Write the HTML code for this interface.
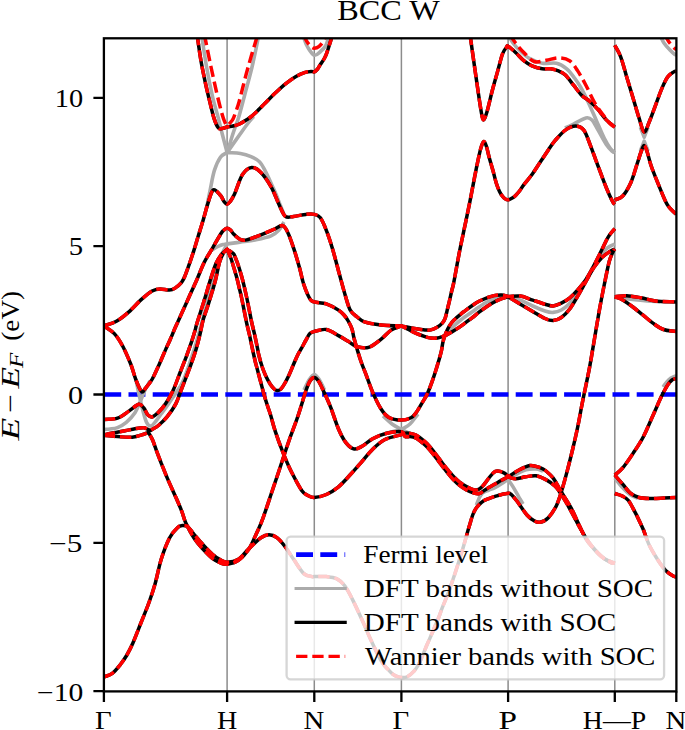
<!DOCTYPE html><html><head><meta charset="utf-8"><style>html,body{margin:0;padding:0;background:#fff;}svg{display:block;}</style></head><body><svg width="685" height="730" viewBox="0 0 685 730">
<defs><clipPath id="ax"><rect x="103.9" y="38.3" width="572.5" height="653.1"/></clipPath></defs>
<rect width="685" height="730" fill="#fff"/>
<path d="M227.1 38.3V691.4M314.3 38.3V691.4M401.4 38.3V691.4M508.1 38.3V691.4M614.8 38.3V691.4" stroke="#8c8c8c" stroke-width="1.5" fill="none"/>
<g clip-path="url(#ax)" fill="none">
<path d="M104.3 394.5H676.4" stroke="#0000ff" stroke-width="4.6" stroke-dasharray="16.9 7.3"/>
<path d="M201.4 34.0 C203.1 44.8 204.7 56.2 206.5 66.5 C208.3 76.8 210.4 87.2 212.3 95.7 C214.2 104.2 216.5 111.0 218.2 117.6 C219.9 124.1 221.0 129.2 222.5 135.0 C224.0 140.8 225.6 146.7 227.1 152.6 C228.4 148.4 229.8 143.8 231.0 140.0 C232.2 136.2 232.9 133.7 234.2 130.0 C235.5 126.3 236.9 123.3 238.6 117.6 C240.3 111.9 242.3 104.0 244.5 95.7 C246.7 87.4 249.6 77.1 251.8 68.0 C254.0 58.9 256.5 46.7 257.6 41.0 C258.7 35.3 258.1 36.3 258.3 34.0" stroke="#ababab" stroke-width="3.6" stroke-linejoin="round"/>
<path d="M227.1 152.6 C224.9 154.1 222.7 154.0 220.6 157.0 C218.5 160.0 216.1 165.1 214.4 170.4 C212.7 175.7 211.7 182.5 210.4 188.8 C209.1 195.1 207.8 201.6 206.5 208.0" stroke="#ababab" stroke-width="3.6" stroke-linejoin="round"/>
<path d="M227.1 152.6 C231.5 152.9 236.4 152.7 240.4 153.4 C244.4 154.1 247.8 155.2 251.0 156.6 C254.2 158.0 257.3 159.6 259.7 162.0 C262.1 164.4 263.7 168.2 265.2 170.8 C266.7 173.4 267.3 175.0 268.5 177.5 C269.7 180.0 271.0 183.1 272.3 186.0 C273.6 188.9 275.0 191.8 276.3 195.0 C277.6 198.2 279.0 201.9 280.2 205.0 C281.4 208.1 282.5 210.7 283.7 213.5" stroke="#ababab" stroke-width="3.6" stroke-linejoin="round"/>
<path d="M227.1 152.6 C229.8 148.7 232.7 144.6 235.3 140.9 C237.9 137.2 240.3 133.8 242.5 130.7 C244.7 127.6 246.7 124.9 248.6 122.5 C250.5 120.1 252.0 118.5 253.7 116.5" stroke="#ababab" stroke-width="3.6" stroke-linejoin="round"/>
<path d="M210.2 251.0 C212.8 249.5 215.8 247.6 218.0 246.5 C220.2 245.4 221.6 244.9 223.1 244.5 C224.6 244.1 224.3 244.3 227.1 243.9 C229.9 243.5 235.3 242.8 240.0 242.2 C244.7 241.5 249.8 241.1 255.0 240.0 C260.2 238.9 267.1 237.5 271.1 235.8 C275.1 234.1 276.9 232.3 279.0 230.0 C281.1 227.7 282.3 224.7 284.0 222.0" stroke="#ababab" stroke-width="3.6" stroke-linejoin="round"/>
<path d="M303.6 34.0 C303.9 35.9 303.8 37.5 304.5 39.8 C305.2 42.1 306.5 45.3 308.1 47.9 C309.7 50.5 312.2 54.6 314.3 55.2 C316.4 55.8 318.6 53.1 320.5 51.5 C322.4 49.9 324.5 47.7 325.7 45.7 C326.9 43.8 327.3 41.8 327.8 39.8 C328.3 37.8 328.5 35.9 328.8 34.0" stroke="#ababab" stroke-width="3.6" stroke-linejoin="round"/>
<path d="M507.6 34.0 C509.4 37.0 511.0 40.3 513.0 43.0 C515.0 45.7 516.9 47.8 519.7 50.4 C522.5 53.0 526.1 56.6 529.9 58.7 C533.6 60.8 537.8 62.5 542.2 63.2 C546.6 64.0 552.4 62.3 556.5 63.2 C560.6 64.1 563.6 66.2 566.7 68.8 C569.8 71.3 572.6 75.5 574.9 78.5 C577.2 81.5 578.3 83.2 580.5 87.0 C582.7 90.8 585.3 96.0 587.9 101.5 C590.5 107.0 593.4 113.8 596.1 119.9 C598.8 126.0 601.9 133.5 604.3 138.3 C606.7 143.1 608.6 146.1 610.4 148.5 C612.1 150.9 613.3 151.2 614.8 152.6" stroke="#ababab" stroke-width="3.6" stroke-linejoin="round"/>
<path d="M565.0 128.0 C567.9 126.7 570.1 125.7 573.6 124.0 C577.1 122.3 582.8 118.6 585.9 117.9 C589.0 117.2 590.0 117.9 592.0 119.9 C594.0 121.9 595.7 126.0 598.1 130.1 C600.5 134.2 603.9 140.8 606.3 144.4 C608.7 148.0 611.0 150.2 612.4 151.6 C613.8 153.0 614.0 152.3 614.8 152.6" stroke="#ababab" stroke-width="3.6" stroke-linejoin="round"/>
<path d="M659.4 34.0 C660.9 37.0 662.2 40.3 664.0 43.0 C665.8 45.7 668.2 48.1 670.0 50.0 C671.8 51.9 673.6 53.7 674.8 54.5 C676.0 55.3 676.5 54.8 677.3 55.0" stroke="#ababab" stroke-width="3.6" stroke-linejoin="round"/>
<path d="M640.3 127.0 C641.6 130.4 642.9 133.8 644.2 137.2 C645.5 133.8 646.8 130.4 648.1 127.0" stroke="#ababab" stroke-width="3.6" stroke-linejoin="round"/>
<path d="M640.3 151.0 C641.6 147.7 642.9 144.5 644.2 141.2 C645.5 144.5 646.8 147.7 648.1 151.0" stroke="#ababab" stroke-width="3.6" stroke-linejoin="round"/>
<path d="M136.0 380.0 C137.4 386.4 138.8 393.7 140.1 399.2 C141.3 404.7 142.4 409.1 143.5 413.0 C144.6 416.9 145.4 420.4 146.7 422.6 C147.9 424.8 149.4 426.3 151.0 426.0 C152.6 425.7 154.3 423.0 156.0 421.0 C157.7 419.0 159.5 416.3 161.3 413.8 C163.1 411.3 165.1 408.8 167.0 406.0 C168.9 403.2 170.5 400.9 173.0 397.2 C175.5 393.5 179.4 388.3 181.8 383.6 C184.2 378.9 185.7 374.4 187.6 369.0 C189.5 363.6 191.8 356.9 193.5 351.5 C195.2 346.1 196.5 341.8 198.0 336.5 C199.5 331.2 201.1 325.2 202.5 320.0 C203.9 314.8 205.0 311.0 206.5 305.5 C208.0 300.0 209.8 293.1 211.5 287.0 C213.2 280.9 214.9 274.2 216.5 269.0 C218.1 263.8 219.2 260.2 221.0 256.0 C222.8 251.8 225.1 248.0 227.1 244.0" stroke="#ababab" stroke-width="3.6" stroke-linejoin="round"/>
<path d="M103.9 429.5 C105.9 429.3 107.7 429.3 110.0 429.0 C112.3 428.7 114.8 428.7 117.5 427.6 C120.2 426.5 123.4 424.8 126.3 422.3 C129.2 419.8 132.7 416.2 135.0 412.7 C137.3 409.2 138.6 405.3 140.3 401.5 C142.0 397.7 143.4 393.4 145.0 390.0 C146.6 386.6 148.3 384.0 150.0 381.0" stroke="#ababab" stroke-width="3.6" stroke-linejoin="round"/>
<path d="M383.0 416.0 C386.0 418.7 388.9 421.7 392.0 424.0 C395.1 426.3 398.3 427.7 401.4 429.6 C404.3 427.7 407.2 426.6 410.0 424.0 C412.8 421.4 415.3 417.3 418.0 414.0" stroke="#ababab" stroke-width="3.6" stroke-linejoin="round"/>
<path d="M385.0 433.5 C390.5 432.2 395.9 430.9 401.4 429.6 C405.9 431.6 410.5 433.5 415.0 435.5" stroke="#ababab" stroke-width="3.6" stroke-linejoin="round"/>
<path d="M508.1 296.5 C512.2 297.7 516.3 298.5 520.4 300.1 C524.5 301.7 528.6 304.2 532.7 306.0 C536.8 307.8 541.6 309.9 545.0 311.0 C548.4 312.1 550.4 312.6 553.1 312.4 C555.8 312.2 558.6 311.5 561.3 310.0 C564.0 308.5 566.8 306.3 569.5 303.5 C572.2 300.7 575.0 296.8 577.7 293.0 C580.4 289.2 583.1 285.1 585.8 280.7 C588.5 276.3 591.3 271.0 594.0 266.4 C596.7 261.8 599.9 256.2 602.2 253.1 C604.5 249.9 605.9 249.0 608.0 247.5 C610.1 246.0 612.5 245.2 614.8 244.0" stroke="#ababab" stroke-width="3.6" stroke-linejoin="round"/>
<path d="M446.0 334.0 C448.6 331.3 451.2 328.4 453.8 326.0 C456.4 323.6 458.4 321.8 461.4 319.5 C464.4 317.2 469.1 314.1 472.0 312.0 C474.9 309.9 476.5 308.7 479.0 307.0 C481.5 305.3 484.4 303.3 486.9 302.0 C489.4 300.7 491.4 299.8 493.9 299.0 C496.4 298.2 499.4 297.4 501.8 297.0 C504.2 296.6 506.0 296.7 508.1 296.5" stroke="#ababab" stroke-width="3.6" stroke-linejoin="round"/>
<path d="M614.8 296.8 C618.8 297.5 621.3 298.1 626.7 298.8 C632.1 299.5 641.7 300.4 647.2 300.9 C652.8 301.4 655.7 301.5 660.0 301.8" stroke="#ababab" stroke-width="3.6" stroke-linejoin="round"/>
<path d="M476.4 505.1 C477.4 502.7 478.4 499.6 479.3 497.8 C480.2 496.0 480.9 495.1 481.5 494.2 C482.1 493.3 481.8 493.4 483.0 492.7 C484.2 492.0 487.0 490.9 489.0 490.0 C491.0 489.1 491.8 489.4 495.0 487.6 C498.2 485.9 503.7 482.2 508.1 479.5 C509.7 481.9 511.4 484.2 512.9 486.6 C514.4 489.0 515.8 491.6 517.0 493.7 C518.2 495.8 519.0 497.3 520.0 499.0 C521.0 500.7 522.0 502.3 523.0 504.0" stroke="#ababab" stroke-width="3.6" stroke-linejoin="round"/>
<path d="M508.1 479.5 C510.7 477.8 513.0 476.1 516.0 474.5 C519.0 472.9 522.7 470.7 526.0 469.8 C529.3 468.9 533.2 468.8 536.0 469.0 C538.8 469.2 540.7 470.3 543.0 471.0" stroke="#ababab" stroke-width="3.6" stroke-linejoin="round"/>
<path d="M614.8 478.0 C617.2 481.0 619.5 484.2 622.0 487.0 C624.5 489.8 627.3 492.6 630.0 494.5 C632.7 496.4 635.3 497.2 638.0 498.5" stroke="#ababab" stroke-width="3.6" stroke-linejoin="round"/>
<path d="M304.0 390.0 C305.7 386.7 307.3 382.6 309.0 380.0 C310.7 377.4 312.6 374.5 314.3 374.5 C316.1 374.5 317.8 377.4 319.5 380.0 C321.2 382.6 322.8 386.7 324.5 390.0" stroke="#ababab" stroke-width="3.6" stroke-linejoin="round"/>
<path d="M663.0 387.0 C665.0 384.5 666.8 381.4 669.0 379.5 C671.2 377.6 673.9 376.8 676.3 375.5" stroke="#ababab" stroke-width="3.6" stroke-linejoin="round"/>
<path d="M103.9 677.0 C106.7 675.8 109.5 675.5 112.3 673.4 C115.0 671.3 118.0 667.5 120.4 664.5 C122.8 661.5 124.5 659.0 126.6 655.5 C128.6 652.0 130.3 648.9 132.7 643.5 C135.1 638.1 138.2 629.8 140.9 623.0 C143.6 616.2 146.6 609.1 149.0 602.5 C151.4 595.9 153.1 590.8 155.2 583.5 C157.2 576.2 158.9 566.6 161.3 559.0 C163.7 551.4 166.8 543.3 169.5 538.0 C172.2 532.7 175.5 529.5 177.7 527.4 C179.9 525.3 181.1 525.5 182.8 525.4 C184.5 525.3 186.0 525.3 187.9 526.8 C189.8 528.3 191.6 531.5 194.0 534.3 C196.4 537.1 199.1 540.5 202.2 543.8 C205.3 547.1 209.4 551.6 212.4 554.2 C215.4 556.8 217.6 558.2 220.0 559.6 C222.4 561.0 224.0 562.3 227.1 562.3 C230.2 562.2 234.8 561.5 238.4 559.3 C242.0 557.1 244.8 552.6 248.6 549.0 C252.3 545.4 257.5 540.2 260.9 537.8 C264.3 535.4 266.3 534.7 269.0 534.7 C271.7 534.7 274.5 535.8 277.2 537.8 C279.9 539.8 282.7 543.4 285.4 547.0 C288.1 550.6 290.5 554.9 293.6 559.3 C296.7 563.7 300.7 570.7 303.8 573.6 C306.9 576.5 310.2 576.1 312.0 576.6 C313.8 577.1 311.9 576.6 314.3 576.6 C316.7 576.6 322.6 576.2 326.3 576.6 C330.0 577.0 333.4 577.2 336.5 578.7 C339.6 580.2 342.0 582.2 344.7 585.8 C347.4 589.4 349.7 593.9 352.8 600.1 C355.9 606.3 360.3 616.0 363.4 622.9 C366.5 629.8 368.4 634.8 371.5 641.3 C374.6 647.8 378.9 657.0 381.7 661.7 C384.4 666.4 386.2 667.4 388.0 669.4 C389.8 671.4 390.9 672.6 392.4 673.8 C393.9 675.0 395.3 675.8 396.8 676.4 C398.3 677.0 399.6 677.4 401.4 677.5 C403.1 677.6 405.3 677.8 407.3 676.8 C409.3 675.8 411.6 673.8 413.5 671.7 C415.4 669.7 417.1 667.2 418.6 664.5 C420.1 661.8 421.3 658.5 422.7 655.2 C424.1 652.0 425.5 648.2 426.9 645.0 C428.3 641.8 429.6 638.9 431.0 635.7 C432.4 632.5 433.9 629.0 435.1 626.0 C436.4 623.0 437.3 621.0 438.5 618.0 C439.7 615.0 440.8 611.5 442.3 607.7 C443.8 603.9 445.7 599.7 447.3 595.4 C448.9 591.1 450.6 586.5 452.2 581.8 C453.8 577.1 455.5 572.1 457.1 567.0 C458.8 561.9 460.6 556.1 462.1 551.0 C463.7 545.9 465.2 540.2 466.4 536.2 C467.5 532.2 467.9 530.5 469.0 527.0 C470.1 523.5 471.6 518.0 472.7 515.0 C473.8 512.0 474.6 510.6 475.7 508.8 C476.8 507.0 478.0 505.7 479.3 504.4 C480.6 503.1 482.1 501.8 483.7 500.8 C485.3 499.8 486.9 499.3 488.8 498.6 C490.7 497.9 493.0 497.0 495.0 496.4 C497.0 495.8 498.5 495.2 500.7 494.7 C502.9 494.2 506.4 493.4 508.1 493.3 C509.8 493.2 509.6 493.1 510.9 494.2 C512.2 495.3 514.3 497.8 516.0 499.9 C517.7 502.0 519.2 504.4 521.1 507.0 C523.0 509.6 525.2 513.0 527.2 515.2 C529.2 517.4 531.3 519.1 533.4 520.3 C535.5 521.5 537.5 522.7 540.0 522.3 C542.5 521.9 545.5 520.5 548.3 517.7 C551.0 514.9 554.1 510.3 556.5 505.4 C558.9 500.5 560.6 494.2 562.4 488.3 C564.2 482.4 565.8 476.4 567.5 469.9 C569.2 463.4 570.9 456.6 572.6 449.5 C574.3 442.4 576.0 435.2 577.7 427.0 C579.4 418.8 580.9 409.8 582.8 400.4 C584.7 391.0 587.1 380.2 589.0 370.4 C590.9 360.6 592.3 351.6 594.0 341.7 C595.7 331.8 597.5 320.6 599.2 311.1 C600.9 301.6 602.6 292.8 604.3 284.5 C606.0 276.2 607.8 266.9 609.3 261.3 C610.8 255.7 612.5 253.2 613.4 251.1 C614.3 249.0 614.3 249.7 614.8 249.0" stroke="#000" stroke-width="3.5" stroke-linejoin="round"/>
<path d="M614.8 493.5 C617.4 494.4 620.2 494.9 622.5 496.1 C624.8 497.3 626.4 498.1 628.4 500.5 C630.4 502.9 632.5 507.4 634.2 510.7 C636.0 514.0 637.4 516.8 638.9 520.0 C640.4 523.2 641.8 525.8 643.5 530.0 C645.2 534.2 646.9 540.1 649.2 545.0 C651.5 549.9 654.7 555.0 657.4 559.3 C660.1 563.5 662.9 567.7 665.6 570.5 C668.3 573.3 672.0 575.3 673.8 576.3 C675.6 577.3 675.5 576.5 676.3 576.6" stroke="#000" stroke-width="3.5" stroke-linejoin="round"/>
<path d="M103.9 435.3 C108.4 435.7 112.8 436.3 117.5 436.6 C122.2 436.9 127.7 437.6 132.1 437.2 C136.5 436.8 141.1 435.0 143.8 434.2 C146.5 433.4 146.9 433.1 148.5 432.5 C149.9 435.0 151.2 436.8 152.6 440.0 C154.0 443.2 155.4 447.9 156.9 451.8 C158.4 455.7 159.6 459.0 161.3 463.4 C163.1 467.8 165.0 472.8 167.4 478.4 C169.8 484.0 173.2 491.4 175.6 496.8 C178.0 502.2 180.0 506.7 181.7 511.1 C183.4 515.5 183.8 518.5 185.8 523.0 C187.9 527.5 191.3 533.8 194.0 538.0 C196.7 542.2 199.1 544.9 202.2 548.3 C205.3 551.7 209.4 556.0 212.4 558.4 C215.4 560.8 217.6 561.7 220.0 562.7 C222.4 563.7 224.0 564.6 227.1 564.2 C230.2 563.8 234.8 562.8 238.4 560.3 C242.0 557.8 245.5 554.1 248.6 549.5 C251.7 544.9 254.4 537.9 256.8 532.7 C259.2 527.5 260.2 525.8 262.9 518.4 C265.6 511.0 270.0 497.4 273.1 488.3 C276.2 479.2 278.6 472.0 281.3 463.8 C284.0 455.6 286.8 447.1 289.5 439.3 C292.2 431.5 295.0 424.9 297.7 416.8 C300.4 408.8 303.8 397.0 305.8 391.0 C307.9 385.0 308.6 383.2 310.0 381.0 C311.4 378.8 312.9 377.5 314.3 377.5 C315.7 377.5 317.2 379.2 318.5 381.0 C319.8 382.8 320.2 383.9 322.2 388.2 C324.2 392.5 327.7 399.8 330.4 406.6 C333.1 413.4 335.9 422.9 338.5 429.0 C341.1 435.1 343.5 439.6 346.1 442.9 C348.7 446.2 351.6 448.5 354.3 449.0 C357.0 449.5 359.4 447.7 362.5 446.0 C365.6 444.3 368.9 440.9 372.7 438.8 C376.4 436.8 380.2 434.9 385.0 433.7 C389.8 432.5 398.1 431.2 401.4 431.7 C404.7 432.1 403.5 435.6 405.0 436.4 C406.5 437.2 408.6 436.3 410.3 436.6 C412.1 436.9 413.8 437.2 415.5 438.0 C417.2 438.8 418.9 440.1 420.8 441.5 C422.7 442.9 424.9 444.6 426.9 446.7 C428.9 448.8 431.1 451.4 433.0 453.8 C434.9 456.2 436.6 458.5 438.3 460.8 C440.1 463.1 441.8 465.6 443.5 467.8 C445.2 470.1 447.1 472.2 448.8 474.3 C450.6 476.4 452.2 478.4 454.0 480.2 C455.8 482.0 457.2 483.5 459.3 485.1 C461.4 486.8 464.4 488.8 466.9 490.1 C469.4 491.4 472.1 492.5 474.2 493.1 C476.3 493.7 477.8 493.8 479.3 493.5 C480.8 493.2 481.7 492.2 483.0 491.3 C484.3 490.4 485.3 489.6 487.3 488.4 C489.3 487.2 492.7 485.3 495.0 484.0 C497.3 482.7 498.8 481.7 501.0 480.5 C503.2 479.3 505.3 478.4 508.1 476.8 C510.9 475.2 514.1 472.6 517.7 470.7 C521.3 468.8 526.2 466.0 529.9 465.5 C533.6 465.0 537.4 466.7 540.1 467.6 C542.8 468.5 543.8 469.2 546.0 471.0 C548.2 472.8 551.0 475.2 553.2 478.1 C555.4 481.0 557.3 484.9 559.3 488.3 C561.3 491.7 563.3 495.1 565.4 498.5 C567.5 501.9 569.5 504.9 571.6 508.8 C573.7 512.7 575.3 517.0 577.7 522.0 C580.1 527.0 583.2 534.3 585.9 538.8 C588.6 543.3 591.3 545.9 594.0 549.0 C596.7 552.1 599.5 555.0 602.2 557.2 C604.9 559.4 608.3 561.3 610.4 562.3 C612.5 563.3 613.3 563.0 614.8 563.4" stroke="#000" stroke-width="3.5" stroke-linejoin="round"/>
<path d="M614.8 475.0 C617.4 472.6 619.7 471.5 622.7 467.9 C625.7 464.3 629.5 458.7 632.9 453.6 C636.3 448.5 639.7 443.7 643.1 437.2 C646.5 430.7 650.2 421.5 653.3 414.7 C656.4 407.9 659.1 401.2 661.5 396.3 C663.9 391.4 665.9 387.8 667.6 385.1 C669.4 382.4 670.5 381.1 672.0 380.0 C673.5 378.9 674.9 379.0 676.3 378.5" stroke="#000" stroke-width="3.5" stroke-linejoin="round"/>
<path d="M103.9 434.8 C105.9 434.4 108.0 433.9 110.0 433.5 C112.0 433.1 113.3 432.9 115.8 432.5 C118.3 432.1 121.8 431.4 125.0 430.8 C128.2 430.2 131.9 429.2 135.0 428.7 C138.1 428.2 141.8 427.7 143.8 427.8 C145.9 427.9 146.2 428.8 147.3 429.2 C148.4 429.6 149.4 430.1 150.5 430.5 C153.1 428.8 155.6 427.8 158.4 425.5 C161.2 423.2 164.3 420.3 167.2 416.7 C170.1 413.1 173.6 408.1 175.9 403.6 C178.2 399.2 179.6 394.1 181.2 390.0 C182.8 385.9 183.9 383.2 185.5 379.0 C187.1 374.8 189.0 369.9 190.8 365.0 C192.6 360.1 194.6 354.4 196.1 349.3 C197.6 344.2 198.8 339.4 200.0 334.4 C201.2 329.4 202.0 324.1 203.3 319.4 C204.6 314.7 206.2 310.8 207.7 306.3 C209.1 301.8 210.7 296.7 212.0 292.3 C213.3 287.9 214.2 285.1 215.5 280.0 C216.8 274.9 218.2 266.6 219.6 262.0 C221.0 257.4 222.4 254.8 223.7 252.7 C224.9 250.6 226.0 250.6 227.1 249.5 C228.2 250.2 229.4 250.8 230.5 251.5 C231.6 252.2 233.0 252.9 233.8 254.0 C234.6 255.1 234.6 255.6 235.5 257.9 C236.4 260.1 238.0 264.4 239.0 267.5 C240.0 270.6 240.7 273.1 241.6 276.3 C242.5 279.5 243.5 283.4 244.3 286.8 C245.1 290.2 245.8 293.3 246.6 297.0 C247.4 300.7 248.2 304.7 249.0 308.8 C249.8 312.9 250.7 317.5 251.6 321.9 C252.5 326.3 253.8 330.8 254.7 335.0 C255.6 339.2 256.6 344.0 257.3 347.3 C258.0 350.6 258.0 351.7 258.8 355.0 C259.6 358.3 261.1 363.8 262.3 367.3 C263.5 370.8 264.5 373.2 265.8 376.0 C267.1 378.8 268.7 381.7 270.1 383.9 C271.6 386.1 273.3 388.1 274.5 389.2 C275.7 390.3 276.2 390.5 277.2 390.5 C278.2 390.5 279.4 390.4 280.7 389.2 C282.0 387.9 283.6 385.5 285.0 383.0 C286.4 380.5 287.9 377.5 289.4 374.3 C290.9 371.1 292.4 367.0 293.8 363.8 C295.2 360.6 296.4 357.6 297.7 355.0 C299.0 352.4 300.3 350.4 301.7 347.9 C303.1 345.4 304.6 342.4 306.0 340.0 C307.4 337.6 308.5 335.0 309.9 333.6 C311.3 332.2 311.6 332.2 314.3 331.5 C317.0 330.8 322.3 328.8 326.3 329.5 C330.3 330.2 334.9 333.6 338.5 335.6 C342.1 337.6 345.2 339.5 348.2 341.3 C351.2 343.1 352.9 345.4 356.3 346.4 C359.7 347.4 364.5 348.6 368.6 347.4 C372.7 346.2 377.1 342.2 380.9 339.3 C384.6 336.4 387.7 332.3 391.1 330.1 C394.5 327.9 398.0 327.4 401.4 326.0 C405.8 328.2 410.6 330.8 414.5 332.6 C418.4 334.4 422.3 335.7 425.0 336.6 C427.7 337.5 428.7 337.8 430.8 338.0 C432.9 338.2 435.6 338.2 437.5 338.0 C439.4 337.8 440.9 337.1 442.3 336.6 C443.7 336.1 444.2 336.1 446.1 335.1 C448.0 334.1 450.9 332.6 453.8 330.8 C456.7 329.0 460.4 326.5 463.4 324.3 C466.4 322.1 469.4 319.9 472.0 317.9 C474.6 315.9 476.5 314.1 479.0 312.2 C481.5 310.3 484.4 308.2 486.9 306.5 C489.4 304.8 491.4 303.5 493.9 302.2 C496.4 300.9 499.4 299.5 501.8 298.6 C504.2 297.7 506.0 297.4 508.1 296.8 C512.2 299.3 516.3 301.8 520.4 304.2 C524.5 306.6 528.6 309.0 532.7 311.4 C536.8 313.8 541.6 317.0 545.0 318.5 C548.4 320.0 550.4 320.8 553.1 320.6 C555.8 320.4 558.6 319.4 561.3 317.5 C564.0 315.6 566.8 312.9 569.5 309.3 C572.2 305.7 575.0 300.7 577.7 296.1 C580.4 291.5 583.1 286.5 585.8 281.7 C588.5 276.9 591.3 271.5 594.0 267.4 C596.7 263.3 599.5 259.9 602.2 257.2 C604.9 254.5 608.3 252.5 610.4 251.1 C612.5 249.7 613.3 249.7 614.8 249.0" stroke="#000" stroke-width="3.5" stroke-linejoin="round"/>
<path d="M614.8 296.8 C617.4 297.8 619.7 298.2 622.7 299.9 C625.7 301.6 629.5 304.4 632.9 307.0 C636.3 309.6 639.7 312.5 643.1 315.2 C646.5 317.9 649.9 321.0 653.3 323.4 C656.7 325.8 659.7 328.1 663.5 329.5 C667.3 330.9 672.0 330.8 676.3 331.5" stroke="#000" stroke-width="3.5" stroke-linejoin="round"/>
<path d="M103.9 419.5 C108.4 419.1 113.3 419.6 117.5 418.2 C121.7 416.8 125.7 413.2 129.2 410.9 C132.7 408.6 136.3 404.8 138.7 404.3 C141.1 403.8 142.2 406.2 143.8 408.0 C145.4 409.8 146.7 413.9 148.2 415.3 C149.7 416.8 150.9 417.2 152.6 416.7 C154.3 416.2 156.2 414.5 158.4 412.3 C160.6 410.1 163.2 407.3 165.7 403.6 C168.2 399.9 170.9 395.3 173.3 390.0 C175.7 384.7 178.1 377.6 180.3 372.0 C182.5 366.4 184.5 361.4 186.4 356.3 C188.3 351.2 190.2 345.8 191.7 341.4 C193.2 337.0 194.4 332.6 195.2 330.0 C196.0 327.4 195.4 328.6 196.3 325.5 C197.2 322.4 199.1 316.6 200.7 311.5 C202.3 306.4 204.3 300.1 205.9 294.9 C207.5 289.6 208.6 285.3 210.3 280.0 C212.0 274.7 214.2 267.6 216.1 263.2 C218.0 258.8 220.1 256.2 221.9 253.9 C223.7 251.6 225.4 251.0 227.1 249.5 C227.7 250.8 228.3 251.9 229.0 253.5 C229.7 255.1 230.3 256.5 231.1 258.8 C231.9 261.1 232.9 264.6 233.8 267.5 C234.7 270.4 235.5 273.1 236.4 276.3 C237.3 279.5 238.2 283.4 239.0 286.8 C239.8 290.2 240.6 293.3 241.4 297.0 C242.2 300.7 243.0 304.7 243.8 308.8 C244.6 312.9 245.5 317.5 246.4 321.9 C247.3 326.3 248.6 330.8 249.5 335.0 C250.4 339.2 251.2 343.1 252.1 347.3 C253.0 351.6 254.2 357.0 255.0 360.5 C255.8 364.0 256.1 364.6 257.0 368.1 C257.9 371.6 259.3 376.9 260.5 381.3 C261.7 385.7 262.8 390.3 264.0 394.4 C265.2 398.5 266.4 402.4 267.5 405.8 C268.6 409.2 269.3 410.8 270.6 415.0 C271.9 419.2 273.1 424.7 275.2 431.1 C277.3 437.5 280.7 446.8 283.4 453.6 C286.1 460.4 288.4 465.9 291.5 472.0 C294.6 478.1 298.9 486.5 301.7 490.4 C304.4 494.3 305.9 494.3 308.0 495.5 C310.1 496.7 311.2 497.7 314.3 497.5 C317.4 497.3 322.3 496.3 326.3 494.5 C330.3 492.7 334.5 490.1 338.5 486.8 C342.5 483.5 346.6 478.7 350.2 474.8 C353.8 470.9 356.6 467.6 360.4 463.3 C364.1 459.0 368.6 453.2 372.7 449.2 C376.8 445.2 380.2 441.9 385.0 439.5 C389.8 437.1 398.1 435.8 401.4 434.7 C404.7 433.6 403.5 433.4 405.0 433.2 C406.5 433.0 408.6 433.1 410.3 433.4 C412.1 433.7 413.8 434.0 415.5 434.8 C417.2 435.6 418.9 436.9 420.8 438.3 C422.7 439.8 424.9 441.4 426.9 443.5 C428.9 445.6 431.1 448.2 433.0 450.6 C434.9 453.0 436.6 455.3 438.3 457.6 C440.1 459.9 441.8 462.4 443.5 464.6 C445.2 466.9 447.1 469.0 448.8 471.1 C450.6 473.2 452.2 475.2 454.0 477.0 C455.8 478.8 457.2 480.2 459.3 481.9 C461.4 483.5 464.4 485.6 466.9 486.9 C469.4 488.2 472.1 489.5 474.2 489.9 C476.3 490.3 477.6 490.1 479.3 489.1 C481.0 488.1 482.8 485.8 484.4 484.0 C486.0 482.2 487.2 480.1 488.8 478.1 C490.4 476.2 492.4 473.5 493.9 472.3 C495.3 471.1 496.2 471.1 497.5 471.0 C498.8 470.9 500.2 471.4 501.5 471.8 C502.8 472.2 503.9 472.7 505.0 473.5 C506.1 474.3 507.1 475.7 508.1 476.8 C510.6 477.5 512.7 478.8 515.6 478.8 C518.5 478.8 522.4 477.3 525.8 476.8 C529.2 476.3 532.7 475.3 536.1 475.8 C539.5 476.3 543.1 478.1 546.3 479.9 C549.5 481.6 552.7 483.9 555.2 486.3 C557.7 488.7 559.2 491.4 561.3 494.5 C563.3 497.6 565.5 501.1 567.5 504.7 C569.5 508.3 571.5 512.1 573.6 516.0 C575.7 519.9 577.6 523.8 580.0 528.0 C582.4 532.2 585.3 537.2 588.0 541.0 C590.7 544.8 593.3 548.1 596.0 551.0 C598.7 553.9 600.9 556.4 604.0 558.5 C607.1 560.6 611.2 561.8 614.8 563.4" stroke="#000" stroke-width="3.5" stroke-linejoin="round"/>
<path d="M614.8 475.0 C617.4 478.1 620.0 481.1 622.7 484.2 C625.4 487.3 628.1 491.2 630.8 493.4 C633.5 495.6 635.6 496.6 639.0 497.5 C642.4 498.4 647.2 498.4 651.3 498.5 C655.4 498.6 659.3 498.3 663.5 498.1 C667.7 497.9 672.0 497.7 676.3 497.5" stroke="#000" stroke-width="3.5" stroke-linejoin="round"/>
<path d="M103.9 326.0 C107.4 328.5 111.2 330.3 114.3 333.6 C117.4 336.9 119.8 340.7 122.5 345.8 C125.2 350.9 128.4 358.3 130.7 364.0 C132.9 369.7 134.2 375.4 136.0 380.0 C137.8 384.6 140.0 390.1 141.6 391.5 C143.2 392.9 143.5 390.6 145.3 388.5 C147.1 386.4 150.0 383.1 152.3 379.0 C154.6 374.9 157.1 369.0 159.3 364.2 C161.5 359.4 163.6 354.1 165.4 350.1 C167.2 346.1 168.5 343.4 170.0 340.0 C171.5 336.6 172.9 333.0 174.2 330.0 C175.5 327.0 176.2 325.6 177.8 322.0 C179.4 318.4 181.7 313.3 183.9 308.5 C186.1 303.7 188.7 297.7 190.8 293.0 C192.9 288.3 194.2 285.7 196.5 280.5 C198.8 275.3 201.7 267.4 204.4 262.0 C207.1 256.6 209.9 252.7 212.6 248.0 C215.3 243.3 218.8 237.0 220.7 234.0 C222.6 231.0 222.9 231.0 224.0 230.0 C225.1 229.0 226.0 228.2 227.1 228.2 C228.2 228.2 229.4 229.0 230.5 230.0 C231.6 231.0 232.0 232.4 233.6 234.0 C235.2 235.6 237.8 238.3 240.0 239.3 C242.2 240.3 243.1 240.7 246.6 239.9 C250.1 239.2 256.5 236.5 260.9 234.8 C265.3 233.1 269.5 231.2 273.1 229.7 C276.7 228.2 279.9 225.3 282.3 225.6 C284.7 225.9 285.5 227.9 287.4 231.7 C289.3 235.4 291.6 242.0 293.6 248.1 C295.7 254.2 298.0 262.4 299.7 268.5 C301.4 274.6 302.1 279.4 303.8 284.5 C305.5 289.6 308.1 295.9 309.9 298.8 C311.6 301.7 311.6 301.0 314.3 301.9 C317.0 302.8 322.3 302.5 326.3 303.9 C330.3 305.3 335.6 308.2 338.5 310.1 C341.4 312.0 342.4 313.2 344.0 315.0 C345.6 316.8 346.9 318.7 348.2 321.0 C349.5 323.3 351.0 325.9 352.0 329.0 C353.0 332.1 352.9 334.2 354.3 339.3 C355.7 344.4 358.3 353.6 360.4 359.7 C362.4 365.8 364.6 370.7 366.6 376.1 C368.7 381.6 370.3 386.9 372.7 392.4 C375.1 397.8 378.2 404.6 380.9 408.8 C383.6 413.0 385.6 415.6 389.0 417.5 C392.4 419.4 397.7 420.1 401.4 420.1 C405.1 420.1 408.6 418.9 411.0 417.7 C413.4 416.5 414.1 415.2 416.0 412.7 C417.9 410.2 420.2 406.0 422.1 402.9 C424.0 399.8 425.5 397.7 427.1 394.2 C428.8 390.7 430.6 385.8 432.0 381.9 C433.4 378.0 434.5 374.7 435.7 370.8 C436.9 366.9 438.4 362.0 439.4 358.5 C440.4 355.0 441.0 352.9 441.6 350.0 C442.2 347.1 442.4 343.9 443.2 341.0 C443.9 338.1 445.0 335.1 446.1 332.5 C447.2 329.9 448.6 327.1 449.9 325.1 C451.2 323.1 451.9 322.2 453.8 320.3 C455.7 318.4 459.5 315.2 461.4 313.6 C463.3 312.0 463.2 312.2 465.0 310.9 C466.8 309.6 469.7 307.3 472.0 305.7 C474.3 304.1 476.5 302.6 479.0 301.3 C481.5 300.0 484.4 298.8 486.9 297.8 C489.4 296.9 491.4 296.1 493.9 295.6 C496.4 295.1 499.4 294.9 501.8 295.0 C504.2 295.1 506.0 296.0 508.1 296.5 C512.2 296.4 516.3 295.5 520.4 296.1 C524.5 296.7 528.6 298.8 532.7 300.1 C536.8 301.5 541.6 303.2 545.0 304.2 C548.4 305.2 550.4 306.1 553.1 305.9 C555.8 305.7 558.6 304.5 561.3 303.2 C564.0 301.9 566.8 300.3 569.5 298.1 C572.2 295.9 575.0 293.0 577.7 289.9 C580.4 286.8 583.1 283.8 585.8 279.7 C588.5 275.6 591.3 270.5 594.0 265.4 C596.7 260.3 599.8 253.8 602.2 249.0 C604.6 244.2 606.2 240.2 608.3 236.8 C610.4 233.4 612.6 231.3 614.8 228.6" stroke="#000" stroke-width="3.5" stroke-linejoin="round"/>
<path d="M614.8 296.8 C618.8 296.5 622.3 295.6 626.7 295.8 C631.1 296.0 636.3 297.0 641.1 297.8 C645.9 298.6 649.5 300.2 655.4 300.9 C661.3 301.6 669.3 301.6 676.3 301.9" stroke="#000" stroke-width="3.5" stroke-linejoin="round"/>
<path d="M103.9 326.0 C108.1 324.4 112.3 323.6 116.4 321.3 C120.5 319.0 124.5 315.7 128.6 312.1 C132.7 308.5 137.0 303.4 140.9 299.9 C144.8 296.4 148.9 292.8 152.1 291.0 C155.3 289.2 157.1 289.0 160.0 288.9 C162.9 288.8 166.8 290.3 169.3 290.1 C171.9 289.9 173.3 289.1 175.3 287.9 C177.3 286.6 179.9 284.4 181.4 282.6 C182.9 280.8 183.2 280.0 184.5 277.0 C185.8 274.0 187.6 268.8 189.2 264.4 C190.8 260.0 192.3 255.3 193.9 250.4 C195.5 245.5 196.9 240.3 198.5 235.2 C200.1 230.1 201.6 225.5 203.2 220.0 C204.8 214.5 206.6 207.1 208.3 202.1 C210.0 197.1 211.4 191.0 213.4 189.9 C215.4 188.8 218.8 193.6 220.6 195.5 C222.4 197.4 222.9 200.1 224.0 201.5 C225.1 202.9 226.1 204.2 227.1 204.2 C228.1 204.2 229.0 203.1 230.2 201.5 C231.4 199.9 232.2 199.0 234.3 194.5 C236.4 190.0 239.6 179.0 242.5 174.5 C245.4 170.0 248.6 167.7 251.7 167.4 C254.8 167.1 257.7 169.3 260.9 172.5 C264.1 175.7 268.0 181.4 271.1 186.8 C274.2 192.2 276.9 200.3 279.3 205.2 C281.7 210.1 283.0 214.5 285.4 216.4 C287.8 218.3 290.2 216.7 293.6 216.4 C297.0 216.1 302.4 214.7 305.8 214.4 C309.2 214.1 311.9 213.8 314.3 214.4 C316.7 215.0 318.3 215.0 320.4 217.8 C322.4 220.6 324.6 225.8 326.6 231.1 C328.7 236.4 330.7 242.7 332.7 249.5 C334.7 256.3 336.8 264.5 338.8 272.0 C340.9 279.5 343.1 288.2 345.0 294.5 C346.9 300.8 348.1 306.1 350.1 309.8 C352.1 313.6 354.8 315.0 357.2 317.0 C359.6 319.0 360.6 320.6 364.5 321.9 C368.4 323.2 374.8 324.3 380.9 325.0 C387.0 325.7 394.6 325.7 401.4 326.0 C405.8 326.8 410.6 327.9 414.5 328.5 C418.4 329.1 422.3 329.7 425.0 329.9 C427.7 330.1 428.7 330.4 430.8 329.9 C432.9 329.4 435.6 328.1 437.5 327.0 C439.4 325.9 441.0 324.5 442.3 323.1 C443.6 321.7 444.2 320.8 445.1 318.4 C446.0 316.0 446.8 311.7 447.5 308.8 C448.2 305.9 448.7 304.2 449.4 301.1 C450.1 298.1 451.1 293.6 451.8 290.5 C452.5 287.4 452.4 289.2 453.7 282.8 C455.0 276.4 457.6 261.4 459.4 252.2 C461.2 243.0 462.8 235.9 464.5 227.7 C466.2 219.5 467.9 211.6 469.6 203.1 C471.3 194.6 473.2 184.3 474.7 176.6 C476.2 168.9 477.7 161.8 478.8 156.7 C479.9 151.6 480.6 148.5 481.5 146.0 C482.4 143.5 483.1 141.5 483.9 141.5 C484.7 141.5 485.4 143.5 486.3 146.0 C487.2 148.5 487.9 152.5 489.0 156.7 C490.1 160.9 491.9 166.5 493.1 171.0 C494.3 175.5 495.3 180.1 496.4 183.5 C497.5 186.9 498.5 189.4 499.5 191.5 C500.5 193.6 501.6 195.1 502.5 196.3 C503.4 197.5 504.3 198.3 505.2 198.9 C506.1 199.5 507.0 199.9 508.1 199.8 C509.2 199.7 510.6 199.0 511.8 198.3 C513.0 197.6 514.3 196.7 515.6 195.4 C516.9 194.1 518.3 192.5 519.7 190.7 C521.1 188.9 521.8 187.4 523.8 184.7 C525.8 182.0 529.3 178.2 532.0 174.5 C534.7 170.8 537.4 166.4 540.1 162.3 C542.8 158.2 545.8 153.7 548.3 150.0 C550.8 146.3 552.4 143.7 555.2 140.4 C558.1 137.1 562.0 132.5 565.4 130.1 C568.8 127.7 572.6 126.1 575.7 126.1 C578.8 126.1 581.4 127.0 583.8 130.1 C586.2 133.2 588.0 139.3 590.0 144.4 C592.0 149.5 593.7 154.4 596.1 160.8 C598.5 167.2 602.1 177.0 604.3 182.7 C606.5 188.4 607.9 191.6 609.4 195.0 C610.9 198.4 612.6 201.6 613.5 203.1 C614.4 204.6 614.4 203.8 614.8 204.2" stroke="#000" stroke-width="3.5" stroke-linejoin="round"/>
<path d="M614.8 200.1 C617.4 198.7 620.0 198.9 622.7 196.0 C625.4 193.1 628.4 188.0 630.8 182.7 C633.2 177.4 635.3 169.4 637.0 164.3 C638.7 159.2 639.8 155.1 641.0 152.0 C642.2 148.9 643.1 145.5 644.1 145.5 C645.1 145.5 646.0 148.5 647.2 152.0 C648.4 155.5 649.3 160.5 651.3 166.3 C653.3 172.1 656.7 180.3 659.4 186.8 C662.1 193.3 664.8 200.6 667.6 205.2 C670.4 209.8 673.4 211.3 676.3 214.4" stroke="#000" stroke-width="3.5" stroke-linejoin="round"/>
<path d="M197.0 34.0 C198.2 42.4 199.4 51.4 200.7 59.2 C202.0 67.0 203.6 74.3 205.0 81.1 C206.4 87.9 207.9 94.0 209.4 100.1 C210.9 106.2 212.3 113.0 213.8 117.6 C215.3 122.2 216.8 126.0 218.2 127.8 C219.6 129.6 220.5 128.6 222.0 128.5 C223.5 128.4 225.3 127.4 227.1 127.0 C228.9 126.6 231.1 126.4 233.0 126.0 C234.9 125.6 236.3 125.4 238.4 124.5 C240.5 123.6 243.6 121.6 245.5 120.4 C247.4 119.2 248.2 118.9 250.0 117.5 C251.8 116.1 253.6 114.6 256.1 112.2 C258.7 109.8 262.1 106.2 265.3 103.0 C268.5 99.8 272.1 96.0 275.5 92.8 C278.9 89.6 282.4 86.3 285.8 83.6 C289.2 80.9 292.8 78.4 296.0 76.5 C299.2 74.6 302.6 73.2 305.2 72.4 C307.8 71.6 309.8 71.5 311.3 71.4 C312.8 71.3 313.3 72.2 314.3 71.9 C315.3 71.6 316.4 70.4 317.4 69.3 C318.3 68.2 318.7 67.3 320.0 65.2 C321.3 63.1 323.8 59.9 325.3 56.6 C326.9 53.3 328.3 48.3 329.3 45.3 C330.3 42.2 330.9 40.2 331.4 38.3 C331.9 36.4 331.9 35.4 332.2 34.0" stroke="#000" stroke-width="3.5" stroke-linejoin="round"/>
<path d="M469.9 34.0 C471.2 42.9 472.4 51.5 473.7 60.7 C475.0 69.9 476.6 81.1 477.8 89.3 C479.0 97.5 480.0 104.6 480.9 109.7 C481.8 114.8 482.3 119.6 483.3 119.9 C484.3 120.2 485.5 116.5 487.0 111.7 C488.5 106.9 490.4 97.8 492.1 91.3 C493.8 84.8 495.5 79.0 497.2 72.9 C498.9 66.8 500.8 58.8 502.3 54.5 C503.8 50.2 505.4 48.8 506.4 47.4 C507.4 46.0 506.6 45.4 508.1 46.3 C509.6 47.1 513.0 50.1 515.6 52.5 C518.2 54.9 521.1 58.5 523.8 60.7 C526.5 62.9 528.9 64.5 532.0 65.8 C535.1 67.1 539.1 68.3 542.2 68.8 C545.3 69.3 547.7 68.4 550.4 68.8 C553.1 69.2 556.0 69.9 558.5 70.9 C561.0 71.9 562.9 72.6 565.4 75.0 C567.9 77.4 570.9 81.8 573.6 85.2 C576.3 88.6 579.1 92.7 581.8 95.4 C584.5 98.1 587.3 99.1 590.0 101.5 C592.7 103.9 595.4 106.6 598.1 109.7 C600.8 112.8 603.5 117.0 606.3 119.9 C609.1 122.8 612.0 124.7 614.8 127.1" stroke="#000" stroke-width="3.5" stroke-linejoin="round"/>
<path d="M614.8 45.3 C616.7 49.1 618.6 51.3 620.6 56.6 C622.6 61.9 624.7 70.2 626.7 77.0 C628.8 83.8 630.9 90.6 632.9 97.4 C634.9 104.2 637.1 112.1 639.0 117.9 C640.9 123.7 642.4 131.3 644.1 132.0 C645.8 132.7 647.3 126.4 649.2 122.0 C651.1 117.6 653.4 111.0 655.4 105.6 C657.4 100.1 659.5 94.1 661.5 89.3 C663.5 84.5 665.6 79.9 667.6 77.0 C669.6 74.1 672.3 72.9 673.8 71.9 C675.2 70.9 675.5 71.3 676.3 71.0" stroke="#000" stroke-width="3.5" stroke-linejoin="round"/>
<path d="M103.9 677.0 C106.7 675.8 109.5 675.5 112.3 673.4 C115.0 671.3 118.0 667.5 120.4 664.5 C122.8 661.5 124.5 659.0 126.6 655.5 C128.6 652.0 130.3 648.9 132.7 643.5 C135.1 638.1 138.2 629.8 140.9 623.0 C143.6 616.2 146.6 609.1 149.0 602.5 C151.4 595.9 153.1 590.8 155.2 583.5 C157.2 576.2 158.9 566.6 161.3 559.0 C163.7 551.4 166.8 543.3 169.5 538.0 C172.2 532.7 175.5 529.5 177.7 527.4 C179.9 525.3 181.1 525.5 182.8 525.4 C184.5 525.3 186.0 525.3 187.9 526.8 C189.8 528.3 191.6 531.5 194.0 534.3 C196.4 537.1 199.1 540.5 202.2 543.8 C205.3 547.1 209.4 551.6 212.4 554.2 C215.4 556.8 217.6 558.2 220.0 559.6 C222.4 561.0 224.0 562.3 227.1 562.3 C230.2 562.2 234.8 561.5 238.4 559.3 C242.0 557.1 244.8 552.6 248.6 549.0 C252.3 545.4 257.5 540.2 260.9 537.8 C264.3 535.4 266.3 534.7 269.0 534.7 C271.7 534.7 274.5 535.8 277.2 537.8 C279.9 539.8 282.7 543.4 285.4 547.0 C288.1 550.6 290.5 554.9 293.6 559.3 C296.7 563.7 300.7 570.7 303.8 573.6 C306.9 576.5 310.2 576.1 312.0 576.6 C313.8 577.1 311.9 576.6 314.3 576.6 C316.7 576.6 322.6 576.2 326.3 576.6 C330.0 577.0 333.4 577.2 336.5 578.7 C339.6 580.2 342.0 582.2 344.7 585.8 C347.4 589.4 349.7 593.9 352.8 600.1 C355.9 606.3 360.3 616.0 363.4 622.9 C366.5 629.8 368.4 634.8 371.5 641.3 C374.6 647.8 378.9 657.0 381.7 661.7 C384.4 666.4 386.2 667.4 388.0 669.4 C389.8 671.4 390.9 672.6 392.4 673.8 C393.9 675.0 395.3 675.8 396.8 676.4 C398.3 677.0 399.6 677.4 401.4 677.5 C403.1 677.6 405.3 677.8 407.3 676.8 C409.3 675.8 411.6 673.8 413.5 671.7 C415.4 669.7 417.1 667.2 418.6 664.5 C420.1 661.8 421.3 658.5 422.7 655.2 C424.1 652.0 425.5 648.2 426.9 645.0 C428.3 641.8 429.6 638.9 431.0 635.7 C432.4 632.5 433.9 629.0 435.1 626.0 C436.4 623.0 437.3 621.0 438.5 618.0 C439.7 615.0 440.8 611.5 442.3 607.7 C443.8 603.9 445.7 599.7 447.3 595.4 C448.9 591.1 450.6 586.5 452.2 581.8 C453.8 577.1 455.5 572.1 457.1 567.0 C458.8 561.9 460.6 556.1 462.1 551.0 C463.7 545.9 465.2 540.2 466.4 536.2 C467.5 532.2 467.9 530.5 469.0 527.0 C470.1 523.5 471.6 518.0 472.7 515.0 C473.8 512.0 474.6 510.6 475.7 508.8 C476.8 507.0 478.0 505.7 479.3 504.4 C480.6 503.1 482.1 501.8 483.7 500.8 C485.3 499.8 486.9 499.3 488.8 498.6 C490.7 497.9 493.0 497.0 495.0 496.4 C497.0 495.8 498.5 495.2 500.7 494.7 C502.9 494.2 506.4 493.4 508.1 493.3 C509.8 493.2 509.6 493.1 510.9 494.2 C512.2 495.3 514.3 497.8 516.0 499.9 C517.7 502.0 519.2 504.4 521.1 507.0 C523.0 509.6 525.2 513.0 527.2 515.2 C529.2 517.4 531.3 519.1 533.4 520.3 C535.5 521.5 537.5 522.7 540.0 522.3 C542.5 521.9 545.5 520.5 548.3 517.7 C551.0 514.9 554.1 510.3 556.5 505.4 C558.9 500.5 560.6 494.2 562.4 488.3 C564.2 482.4 565.8 476.4 567.5 469.9 C569.2 463.4 570.9 456.6 572.6 449.5 C574.3 442.4 576.0 435.2 577.7 427.0 C579.4 418.8 580.9 409.8 582.8 400.4 C584.7 391.0 587.1 380.2 589.0 370.4 C590.9 360.6 592.3 351.6 594.0 341.7 C595.7 331.8 597.5 320.6 599.2 311.1 C600.9 301.6 602.6 292.8 604.3 284.5 C606.0 276.2 607.8 266.9 609.3 261.3 C610.8 255.7 612.5 253.2 613.4 251.1 C614.3 249.0 614.3 249.7 614.8 249.0" stroke="#ff0000" stroke-width="3.5" stroke-dasharray="11.3 4.9"/>
<path d="M614.8 493.5 C617.4 494.4 620.2 494.9 622.5 496.1 C624.8 497.3 626.4 498.1 628.4 500.5 C630.4 502.9 632.5 507.4 634.2 510.7 C636.0 514.0 637.4 516.8 638.9 520.0 C640.4 523.2 641.8 525.8 643.5 530.0 C645.2 534.2 646.9 540.1 649.2 545.0 C651.5 549.9 654.7 555.0 657.4 559.3 C660.1 563.5 662.9 567.7 665.6 570.5 C668.3 573.3 672.0 575.3 673.8 576.3 C675.6 577.3 675.5 576.5 676.3 576.6" stroke="#ff0000" stroke-width="3.5" stroke-dasharray="11.3 4.9"/>
<path d="M103.9 435.3 C108.4 435.7 112.8 436.3 117.5 436.6 C122.2 436.9 127.7 437.6 132.1 437.2 C136.5 436.8 141.1 435.0 143.8 434.2 C146.5 433.4 146.9 433.1 148.5 432.5 C149.9 435.0 151.2 436.8 152.6 440.0 C154.0 443.2 155.4 447.9 156.9 451.8 C158.4 455.7 159.6 459.0 161.3 463.4 C163.1 467.8 165.0 472.8 167.4 478.4 C169.8 484.0 173.2 491.4 175.6 496.8 C178.0 502.2 180.0 506.7 181.7 511.1 C183.4 515.5 183.8 518.5 185.8 523.0 C187.9 527.5 191.3 533.8 194.0 538.0 C196.7 542.2 199.1 544.9 202.2 548.3 C205.3 551.7 209.4 556.0 212.4 558.4 C215.4 560.8 217.6 561.7 220.0 562.7 C222.4 563.7 224.0 564.6 227.1 564.2 C230.2 563.8 234.8 562.8 238.4 560.3 C242.0 557.8 245.5 554.1 248.6 549.5 C251.7 544.9 254.4 537.9 256.8 532.7 C259.2 527.5 260.2 525.8 262.9 518.4 C265.6 511.0 270.0 497.4 273.1 488.3 C276.2 479.2 278.6 472.0 281.3 463.8 C284.0 455.6 286.8 447.1 289.5 439.3 C292.2 431.5 295.0 424.9 297.7 416.8 C300.4 408.8 303.8 397.0 305.8 391.0 C307.9 385.0 308.6 383.2 310.0 381.0 C311.4 378.8 312.9 377.5 314.3 377.5 C315.7 377.5 317.2 379.2 318.5 381.0 C319.8 382.8 320.2 383.9 322.2 388.2 C324.2 392.5 327.7 399.8 330.4 406.6 C333.1 413.4 335.9 422.9 338.5 429.0 C341.1 435.1 343.5 439.6 346.1 442.9 C348.7 446.2 351.6 448.5 354.3 449.0 C357.0 449.5 359.4 447.7 362.5 446.0 C365.6 444.3 368.9 440.9 372.7 438.8 C376.4 436.8 380.2 434.9 385.0 433.7 C389.8 432.5 398.1 431.2 401.4 431.7 C404.7 432.1 403.5 435.6 405.0 436.4 C406.5 437.2 408.6 436.3 410.3 436.6 C412.1 436.9 413.8 437.2 415.5 438.0 C417.2 438.8 418.9 440.1 420.8 441.5 C422.7 442.9 424.9 444.6 426.9 446.7 C428.9 448.8 431.1 451.4 433.0 453.8 C434.9 456.2 436.6 458.5 438.3 460.8 C440.1 463.1 441.8 465.6 443.5 467.8 C445.2 470.1 447.1 472.2 448.8 474.3 C450.6 476.4 452.2 478.4 454.0 480.2 C455.8 482.0 457.2 483.5 459.3 485.1 C461.4 486.8 464.4 488.8 466.9 490.1 C469.4 491.4 472.1 492.5 474.2 493.1 C476.3 493.7 477.8 493.8 479.3 493.5 C480.8 493.2 481.7 492.2 483.0 491.3 C484.3 490.4 485.3 489.6 487.3 488.4 C489.3 487.2 492.7 485.3 495.0 484.0 C497.3 482.7 498.8 481.7 501.0 480.5 C503.2 479.3 505.3 478.4 508.1 476.8 C510.9 475.2 514.1 472.6 517.7 470.7 C521.3 468.8 526.2 466.0 529.9 465.5 C533.6 465.0 537.4 466.7 540.1 467.6 C542.8 468.5 543.8 469.2 546.0 471.0 C548.2 472.8 551.0 475.2 553.2 478.1 C555.4 481.0 557.3 484.9 559.3 488.3 C561.3 491.7 563.3 495.1 565.4 498.5 C567.5 501.9 569.5 504.9 571.6 508.8 C573.7 512.7 575.3 517.0 577.7 522.0 C580.1 527.0 583.2 534.3 585.9 538.8 C588.6 543.3 591.3 545.9 594.0 549.0 C596.7 552.1 599.5 555.0 602.2 557.2 C604.9 559.4 608.3 561.3 610.4 562.3 C612.5 563.3 613.3 563.0 614.8 563.4" stroke="#ff0000" stroke-width="3.5" stroke-dasharray="11.3 4.9"/>
<path d="M614.8 475.0 C617.4 472.6 619.7 471.5 622.7 467.9 C625.7 464.3 629.5 458.7 632.9 453.6 C636.3 448.5 639.7 443.7 643.1 437.2 C646.5 430.7 650.2 421.5 653.3 414.7 C656.4 407.9 659.1 401.2 661.5 396.3 C663.9 391.4 665.9 387.8 667.6 385.1 C669.4 382.4 670.5 381.1 672.0 380.0 C673.5 378.9 674.9 379.0 676.3 378.5" stroke="#ff0000" stroke-width="3.5" stroke-dasharray="11.3 4.9"/>
<path d="M103.9 434.8 C105.9 434.4 108.0 433.9 110.0 433.5 C112.0 433.1 113.3 432.9 115.8 432.5 C118.3 432.1 121.8 431.4 125.0 430.8 C128.2 430.2 131.9 429.2 135.0 428.7 C138.1 428.2 141.8 427.7 143.8 427.8 C145.9 427.9 146.2 428.8 147.3 429.2 C148.4 429.6 149.4 430.1 150.5 430.5 C153.1 428.8 155.6 427.8 158.4 425.5 C161.2 423.2 164.3 420.3 167.2 416.7 C170.1 413.1 173.6 408.1 175.9 403.6 C178.2 399.2 179.6 394.1 181.2 390.0 C182.8 385.9 183.9 383.2 185.5 379.0 C187.1 374.8 189.0 369.9 190.8 365.0 C192.6 360.1 194.6 354.4 196.1 349.3 C197.6 344.2 198.8 339.4 200.0 334.4 C201.2 329.4 202.0 324.1 203.3 319.4 C204.6 314.7 206.2 310.8 207.7 306.3 C209.1 301.8 210.7 296.7 212.0 292.3 C213.3 287.9 214.2 285.1 215.5 280.0 C216.8 274.9 218.2 266.6 219.6 262.0 C221.0 257.4 222.4 254.8 223.7 252.7 C224.9 250.6 226.0 250.6 227.1 249.5 C228.2 250.2 229.4 250.8 230.5 251.5 C231.6 252.2 233.0 252.9 233.8 254.0 C234.6 255.1 234.6 255.6 235.5 257.9 C236.4 260.1 238.0 264.4 239.0 267.5 C240.0 270.6 240.7 273.1 241.6 276.3 C242.5 279.5 243.5 283.4 244.3 286.8 C245.1 290.2 245.8 293.3 246.6 297.0 C247.4 300.7 248.2 304.7 249.0 308.8 C249.8 312.9 250.7 317.5 251.6 321.9 C252.5 326.3 253.8 330.8 254.7 335.0 C255.6 339.2 256.6 344.0 257.3 347.3 C258.0 350.6 258.0 351.7 258.8 355.0 C259.6 358.3 261.1 363.8 262.3 367.3 C263.5 370.8 264.5 373.2 265.8 376.0 C267.1 378.8 268.7 381.7 270.1 383.9 C271.6 386.1 273.3 388.1 274.5 389.2 C275.7 390.3 276.2 390.5 277.2 390.5 C278.2 390.5 279.4 390.4 280.7 389.2 C282.0 387.9 283.6 385.5 285.0 383.0 C286.4 380.5 287.9 377.5 289.4 374.3 C290.9 371.1 292.4 367.0 293.8 363.8 C295.2 360.6 296.4 357.6 297.7 355.0 C299.0 352.4 300.3 350.4 301.7 347.9 C303.1 345.4 304.6 342.4 306.0 340.0 C307.4 337.6 308.5 335.0 309.9 333.6 C311.3 332.2 311.6 332.2 314.3 331.5 C317.0 330.8 322.3 328.8 326.3 329.5 C330.3 330.2 334.9 333.6 338.5 335.6 C342.1 337.6 345.2 339.5 348.2 341.3 C351.2 343.1 352.9 345.4 356.3 346.4 C359.7 347.4 364.5 348.6 368.6 347.4 C372.7 346.2 377.1 342.2 380.9 339.3 C384.6 336.4 387.7 332.3 391.1 330.1 C394.5 327.9 398.0 327.4 401.4 326.0 C405.8 328.2 410.6 330.8 414.5 332.6 C418.4 334.4 422.3 335.7 425.0 336.6 C427.7 337.5 428.7 337.8 430.8 338.0 C432.9 338.2 435.6 338.2 437.5 338.0 C439.4 337.8 440.9 337.1 442.3 336.6 C443.7 336.1 444.2 336.1 446.1 335.1 C448.0 334.1 450.9 332.6 453.8 330.8 C456.7 329.0 460.4 326.5 463.4 324.3 C466.4 322.1 469.4 319.9 472.0 317.9 C474.6 315.9 476.5 314.1 479.0 312.2 C481.5 310.3 484.4 308.2 486.9 306.5 C489.4 304.8 491.4 303.5 493.9 302.2 C496.4 300.9 499.4 299.5 501.8 298.6 C504.2 297.7 506.0 297.4 508.1 296.8 C512.2 299.3 516.3 301.8 520.4 304.2 C524.5 306.6 528.6 309.0 532.7 311.4 C536.8 313.8 541.6 317.0 545.0 318.5 C548.4 320.0 550.4 320.8 553.1 320.6 C555.8 320.4 558.6 319.4 561.3 317.5 C564.0 315.6 566.8 312.9 569.5 309.3 C572.2 305.7 575.0 300.7 577.7 296.1 C580.4 291.5 583.1 286.5 585.8 281.7 C588.5 276.9 591.3 271.5 594.0 267.4 C596.7 263.3 599.5 259.9 602.2 257.2 C604.9 254.5 608.3 252.5 610.4 251.1 C612.5 249.7 613.3 249.7 614.8 249.0" stroke="#ff0000" stroke-width="3.5" stroke-dasharray="11.3 4.9"/>
<path d="M614.8 296.8 C617.4 297.8 619.7 298.2 622.7 299.9 C625.7 301.6 629.5 304.4 632.9 307.0 C636.3 309.6 639.7 312.5 643.1 315.2 C646.5 317.9 649.9 321.0 653.3 323.4 C656.7 325.8 659.7 328.1 663.5 329.5 C667.3 330.9 672.0 330.8 676.3 331.5" stroke="#ff0000" stroke-width="3.5" stroke-dasharray="11.3 4.9"/>
<path d="M103.9 419.5 C108.4 419.1 113.3 419.6 117.5 418.2 C121.7 416.8 125.7 413.2 129.2 410.9 C132.7 408.6 136.3 404.8 138.7 404.3 C141.1 403.8 142.2 406.2 143.8 408.0 C145.4 409.8 146.7 413.9 148.2 415.3 C149.7 416.8 150.9 417.2 152.6 416.7 C154.3 416.2 156.2 414.5 158.4 412.3 C160.6 410.1 163.2 407.3 165.7 403.6 C168.2 399.9 170.9 395.3 173.3 390.0 C175.7 384.7 178.1 377.6 180.3 372.0 C182.5 366.4 184.5 361.4 186.4 356.3 C188.3 351.2 190.2 345.8 191.7 341.4 C193.2 337.0 194.4 332.6 195.2 330.0 C196.0 327.4 195.4 328.6 196.3 325.5 C197.2 322.4 199.1 316.6 200.7 311.5 C202.3 306.4 204.3 300.1 205.9 294.9 C207.5 289.6 208.6 285.3 210.3 280.0 C212.0 274.7 214.2 267.6 216.1 263.2 C218.0 258.8 220.1 256.2 221.9 253.9 C223.7 251.6 225.4 251.0 227.1 249.5 C227.7 250.8 228.3 251.9 229.0 253.5 C229.7 255.1 230.3 256.5 231.1 258.8 C231.9 261.1 232.9 264.6 233.8 267.5 C234.7 270.4 235.5 273.1 236.4 276.3 C237.3 279.5 238.2 283.4 239.0 286.8 C239.8 290.2 240.6 293.3 241.4 297.0 C242.2 300.7 243.0 304.7 243.8 308.8 C244.6 312.9 245.5 317.5 246.4 321.9 C247.3 326.3 248.6 330.8 249.5 335.0 C250.4 339.2 251.2 343.1 252.1 347.3 C253.0 351.6 254.2 357.0 255.0 360.5 C255.8 364.0 256.1 364.6 257.0 368.1 C257.9 371.6 259.3 376.9 260.5 381.3 C261.7 385.7 262.8 390.3 264.0 394.4 C265.2 398.5 266.4 402.4 267.5 405.8 C268.6 409.2 269.3 410.8 270.6 415.0 C271.9 419.2 273.1 424.7 275.2 431.1 C277.3 437.5 280.7 446.8 283.4 453.6 C286.1 460.4 288.4 465.9 291.5 472.0 C294.6 478.1 298.9 486.5 301.7 490.4 C304.4 494.3 305.9 494.3 308.0 495.5 C310.1 496.7 311.2 497.7 314.3 497.5 C317.4 497.3 322.3 496.3 326.3 494.5 C330.3 492.7 334.5 490.1 338.5 486.8 C342.5 483.5 346.6 478.7 350.2 474.8 C353.8 470.9 356.6 467.6 360.4 463.3 C364.1 459.0 368.6 453.2 372.7 449.2 C376.8 445.2 380.2 441.9 385.0 439.5 C389.8 437.1 398.1 435.8 401.4 434.7 C404.7 433.6 403.5 433.4 405.0 433.2 C406.5 433.0 408.6 433.1 410.3 433.4 C412.1 433.7 413.8 434.0 415.5 434.8 C417.2 435.6 418.9 436.9 420.8 438.3 C422.7 439.8 424.9 441.4 426.9 443.5 C428.9 445.6 431.1 448.2 433.0 450.6 C434.9 453.0 436.6 455.3 438.3 457.6 C440.1 459.9 441.8 462.4 443.5 464.6 C445.2 466.9 447.1 469.0 448.8 471.1 C450.6 473.2 452.2 475.2 454.0 477.0 C455.8 478.8 457.2 480.2 459.3 481.9 C461.4 483.5 464.4 485.6 466.9 486.9 C469.4 488.2 472.1 489.5 474.2 489.9 C476.3 490.3 477.6 490.1 479.3 489.1 C481.0 488.1 482.8 485.8 484.4 484.0 C486.0 482.2 487.2 480.1 488.8 478.1 C490.4 476.2 492.4 473.5 493.9 472.3 C495.3 471.1 496.2 471.1 497.5 471.0 C498.8 470.9 500.2 471.4 501.5 471.8 C502.8 472.2 503.9 472.7 505.0 473.5 C506.1 474.3 507.1 475.7 508.1 476.8 C510.6 477.5 512.7 478.8 515.6 478.8 C518.5 478.8 522.4 477.3 525.8 476.8 C529.2 476.3 532.7 475.3 536.1 475.8 C539.5 476.3 543.1 478.1 546.3 479.9 C549.5 481.6 552.7 483.9 555.2 486.3 C557.7 488.7 559.2 491.4 561.3 494.5 C563.3 497.6 565.5 501.1 567.5 504.7 C569.5 508.3 571.5 512.1 573.6 516.0 C575.7 519.9 577.6 523.8 580.0 528.0 C582.4 532.2 585.3 537.2 588.0 541.0 C590.7 544.8 593.3 548.1 596.0 551.0 C598.7 553.9 600.9 556.4 604.0 558.5 C607.1 560.6 611.2 561.8 614.8 563.4" stroke="#ff0000" stroke-width="3.5" stroke-dasharray="11.3 4.9"/>
<path d="M614.8 475.0 C617.4 478.1 620.0 481.1 622.7 484.2 C625.4 487.3 628.1 491.2 630.8 493.4 C633.5 495.6 635.6 496.6 639.0 497.5 C642.4 498.4 647.2 498.4 651.3 498.5 C655.4 498.6 659.3 498.3 663.5 498.1 C667.7 497.9 672.0 497.7 676.3 497.5" stroke="#ff0000" stroke-width="3.5" stroke-dasharray="11.3 4.9"/>
<path d="M103.9 326.0 C107.4 328.5 111.2 330.3 114.3 333.6 C117.4 336.9 119.8 340.7 122.5 345.8 C125.2 350.9 128.4 358.3 130.7 364.0 C132.9 369.7 134.2 375.4 136.0 380.0 C137.8 384.6 140.0 390.1 141.6 391.5 C143.2 392.9 143.5 390.6 145.3 388.5 C147.1 386.4 150.0 383.1 152.3 379.0 C154.6 374.9 157.1 369.0 159.3 364.2 C161.5 359.4 163.6 354.1 165.4 350.1 C167.2 346.1 168.5 343.4 170.0 340.0 C171.5 336.6 172.9 333.0 174.2 330.0 C175.5 327.0 176.2 325.6 177.8 322.0 C179.4 318.4 181.7 313.3 183.9 308.5 C186.1 303.7 188.7 297.7 190.8 293.0 C192.9 288.3 194.2 285.7 196.5 280.5 C198.8 275.3 201.7 267.4 204.4 262.0 C207.1 256.6 209.9 252.7 212.6 248.0 C215.3 243.3 218.8 237.0 220.7 234.0 C222.6 231.0 222.9 231.0 224.0 230.0 C225.1 229.0 226.0 228.2 227.1 228.2 C228.2 228.2 229.4 229.0 230.5 230.0 C231.6 231.0 232.0 232.4 233.6 234.0 C235.2 235.6 237.8 238.3 240.0 239.3 C242.2 240.3 243.1 240.7 246.6 239.9 C250.1 239.2 256.5 236.5 260.9 234.8 C265.3 233.1 269.5 231.2 273.1 229.7 C276.7 228.2 279.9 225.3 282.3 225.6 C284.7 225.9 285.5 227.9 287.4 231.7 C289.3 235.4 291.6 242.0 293.6 248.1 C295.7 254.2 298.0 262.4 299.7 268.5 C301.4 274.6 302.1 279.4 303.8 284.5 C305.5 289.6 308.1 295.9 309.9 298.8 C311.6 301.7 311.6 301.0 314.3 301.9 C317.0 302.8 322.3 302.5 326.3 303.9 C330.3 305.3 335.6 308.2 338.5 310.1 C341.4 312.0 342.4 313.2 344.0 315.0 C345.6 316.8 346.9 318.7 348.2 321.0 C349.5 323.3 351.0 325.9 352.0 329.0 C353.0 332.1 352.9 334.2 354.3 339.3 C355.7 344.4 358.3 353.6 360.4 359.7 C362.4 365.8 364.6 370.7 366.6 376.1 C368.7 381.6 370.3 386.9 372.7 392.4 C375.1 397.8 378.2 404.6 380.9 408.8 C383.6 413.0 385.6 415.6 389.0 417.5 C392.4 419.4 397.7 420.1 401.4 420.1 C405.1 420.1 408.6 418.9 411.0 417.7 C413.4 416.5 414.1 415.2 416.0 412.7 C417.9 410.2 420.2 406.0 422.1 402.9 C424.0 399.8 425.5 397.7 427.1 394.2 C428.8 390.7 430.6 385.8 432.0 381.9 C433.4 378.0 434.5 374.7 435.7 370.8 C436.9 366.9 438.4 362.0 439.4 358.5 C440.4 355.0 441.0 352.9 441.6 350.0 C442.2 347.1 442.4 343.9 443.2 341.0 C443.9 338.1 445.0 335.1 446.1 332.5 C447.2 329.9 448.6 327.1 449.9 325.1 C451.2 323.1 451.9 322.2 453.8 320.3 C455.7 318.4 459.5 315.2 461.4 313.6 C463.3 312.0 463.2 312.2 465.0 310.9 C466.8 309.6 469.7 307.3 472.0 305.7 C474.3 304.1 476.5 302.6 479.0 301.3 C481.5 300.0 484.4 298.8 486.9 297.8 C489.4 296.9 491.4 296.1 493.9 295.6 C496.4 295.1 499.4 294.9 501.8 295.0 C504.2 295.1 506.0 296.0 508.1 296.5 C512.2 296.4 516.3 295.5 520.4 296.1 C524.5 296.7 528.6 298.8 532.7 300.1 C536.8 301.5 541.6 303.2 545.0 304.2 C548.4 305.2 550.4 306.1 553.1 305.9 C555.8 305.7 558.6 304.5 561.3 303.2 C564.0 301.9 566.8 300.3 569.5 298.1 C572.2 295.9 575.0 293.0 577.7 289.9 C580.4 286.8 583.1 283.8 585.8 279.7 C588.5 275.6 591.3 270.5 594.0 265.4 C596.7 260.3 599.8 253.8 602.2 249.0 C604.6 244.2 606.2 240.2 608.3 236.8 C610.4 233.4 612.6 231.3 614.8 228.6" stroke="#ff0000" stroke-width="3.5" stroke-dasharray="11.3 4.9"/>
<path d="M614.8 296.8 C618.8 296.5 622.3 295.6 626.7 295.8 C631.1 296.0 636.3 297.0 641.1 297.8 C645.9 298.6 649.5 300.2 655.4 300.9 C661.3 301.6 669.3 301.6 676.3 301.9" stroke="#ff0000" stroke-width="3.5" stroke-dasharray="11.3 4.9"/>
<path d="M103.9 326.0 C108.1 324.4 112.3 323.6 116.4 321.3 C120.5 319.0 124.5 315.7 128.6 312.1 C132.7 308.5 137.0 303.4 140.9 299.9 C144.8 296.4 148.9 292.8 152.1 291.0 C155.3 289.2 157.1 289.0 160.0 288.9 C162.9 288.8 166.8 290.3 169.3 290.1 C171.9 289.9 173.3 289.1 175.3 287.9 C177.3 286.6 179.9 284.4 181.4 282.6 C182.9 280.8 183.2 280.0 184.5 277.0 C185.8 274.0 187.6 268.8 189.2 264.4 C190.8 260.0 192.3 255.3 193.9 250.4 C195.5 245.5 196.9 240.3 198.5 235.2 C200.1 230.1 201.6 225.5 203.2 220.0 C204.8 214.5 206.6 207.1 208.3 202.1 C210.0 197.1 211.4 191.0 213.4 189.9 C215.4 188.8 218.8 193.6 220.6 195.5 C222.4 197.4 222.9 200.1 224.0 201.5 C225.1 202.9 226.1 204.2 227.1 204.2 C228.1 204.2 229.0 203.1 230.2 201.5 C231.4 199.9 232.2 199.0 234.3 194.5 C236.4 190.0 239.6 179.0 242.5 174.5 C245.4 170.0 248.6 167.7 251.7 167.4 C254.8 167.1 257.7 169.3 260.9 172.5 C264.1 175.7 268.0 181.4 271.1 186.8 C274.2 192.2 276.9 200.3 279.3 205.2 C281.7 210.1 283.0 214.5 285.4 216.4 C287.8 218.3 290.2 216.7 293.6 216.4 C297.0 216.1 302.4 214.7 305.8 214.4 C309.2 214.1 311.9 213.8 314.3 214.4 C316.7 215.0 318.3 215.0 320.4 217.8 C322.4 220.6 324.6 225.8 326.6 231.1 C328.7 236.4 330.7 242.7 332.7 249.5 C334.7 256.3 336.8 264.5 338.8 272.0 C340.9 279.5 343.1 288.2 345.0 294.5 C346.9 300.8 348.1 306.1 350.1 309.8 C352.1 313.6 354.8 315.0 357.2 317.0 C359.6 319.0 360.6 320.6 364.5 321.9 C368.4 323.2 374.8 324.3 380.9 325.0 C387.0 325.7 394.6 325.7 401.4 326.0 C405.8 326.8 410.6 327.9 414.5 328.5 C418.4 329.1 422.3 329.7 425.0 329.9 C427.7 330.1 428.7 330.4 430.8 329.9 C432.9 329.4 435.6 328.1 437.5 327.0 C439.4 325.9 441.0 324.5 442.3 323.1 C443.6 321.7 444.2 320.8 445.1 318.4 C446.0 316.0 446.8 311.7 447.5 308.8 C448.2 305.9 448.7 304.2 449.4 301.1 C450.1 298.1 451.1 293.6 451.8 290.5 C452.5 287.4 452.4 289.2 453.7 282.8 C455.0 276.4 457.6 261.4 459.4 252.2 C461.2 243.0 462.8 235.9 464.5 227.7 C466.2 219.5 467.9 211.6 469.6 203.1 C471.3 194.6 473.2 184.3 474.7 176.6 C476.2 168.9 477.7 161.8 478.8 156.7 C479.9 151.6 480.6 148.5 481.5 146.0 C482.4 143.5 483.1 141.5 483.9 141.5 C484.7 141.5 485.4 143.5 486.3 146.0 C487.2 148.5 487.9 152.5 489.0 156.7 C490.1 160.9 491.9 166.5 493.1 171.0 C494.3 175.5 495.3 180.1 496.4 183.5 C497.5 186.9 498.5 189.4 499.5 191.5 C500.5 193.6 501.6 195.1 502.5 196.3 C503.4 197.5 504.3 198.3 505.2 198.9 C506.1 199.5 507.0 199.9 508.1 199.8 C509.2 199.7 510.6 199.0 511.8 198.3 C513.0 197.6 514.3 196.7 515.6 195.4 C516.9 194.1 518.3 192.5 519.7 190.7 C521.1 188.9 521.8 187.4 523.8 184.7 C525.8 182.0 529.3 178.2 532.0 174.5 C534.7 170.8 537.4 166.4 540.1 162.3 C542.8 158.2 545.8 153.7 548.3 150.0 C550.8 146.3 552.4 143.7 555.2 140.4 C558.1 137.1 562.0 132.5 565.4 130.1 C568.8 127.7 572.6 126.1 575.7 126.1 C578.8 126.1 581.4 127.0 583.8 130.1 C586.2 133.2 588.0 139.3 590.0 144.4 C592.0 149.5 593.7 154.4 596.1 160.8 C598.5 167.2 602.1 177.0 604.3 182.7 C606.5 188.4 607.9 191.6 609.4 195.0 C610.9 198.4 612.6 201.6 613.5 203.1 C614.4 204.6 614.4 203.8 614.8 204.2" stroke="#ff0000" stroke-width="3.5" stroke-dasharray="11.3 4.9"/>
<path d="M614.8 200.1 C617.4 198.7 620.0 198.9 622.7 196.0 C625.4 193.1 628.4 188.0 630.8 182.7 C633.2 177.4 635.3 169.4 637.0 164.3 C638.7 159.2 639.8 155.1 641.0 152.0 C642.2 148.9 643.1 145.5 644.1 145.5 C645.1 145.5 646.0 148.5 647.2 152.0 C648.4 155.5 649.3 160.5 651.3 166.3 C653.3 172.1 656.7 180.3 659.4 186.8 C662.1 193.3 664.8 200.6 667.6 205.2 C670.4 209.8 673.4 211.3 676.3 214.4" stroke="#ff0000" stroke-width="3.5" stroke-dasharray="11.3 4.9"/>
<path d="M197.0 34.0 C198.2 42.4 199.4 51.4 200.7 59.2 C202.0 67.0 203.6 74.3 205.0 81.1 C206.4 87.9 207.9 94.0 209.4 100.1 C210.9 106.2 212.3 113.0 213.8 117.6 C215.3 122.2 216.8 126.0 218.2 127.8 C219.6 129.6 220.5 128.6 222.0 128.5 C223.5 128.4 225.3 127.4 227.1 127.0 C228.9 126.6 231.1 126.4 233.0 126.0 C234.9 125.6 236.3 125.4 238.4 124.5 C240.5 123.6 243.6 121.6 245.5 120.4 C247.4 119.2 248.2 118.9 250.0 117.5 C251.8 116.1 253.6 114.6 256.1 112.2 C258.7 109.8 262.1 106.2 265.3 103.0 C268.5 99.8 272.1 96.0 275.5 92.8 C278.9 89.6 282.4 86.3 285.8 83.6 C289.2 80.9 292.8 78.4 296.0 76.5 C299.2 74.6 302.6 73.2 305.2 72.4 C307.8 71.6 309.8 71.5 311.3 71.4 C312.8 71.3 313.3 72.2 314.3 71.9 C315.3 71.6 316.4 70.4 317.4 69.3 C318.3 68.2 318.7 67.3 320.0 65.2 C321.3 63.1 323.8 59.9 325.3 56.6 C326.9 53.3 328.3 48.3 329.3 45.3 C330.3 42.2 330.9 40.2 331.4 38.3 C331.9 36.4 331.9 35.4 332.2 34.0" stroke="#ff0000" stroke-width="3.5" stroke-dasharray="11.3 4.9"/>
<path d="M469.9 34.0 C471.2 42.9 472.4 51.5 473.7 60.7 C475.0 69.9 476.6 81.1 477.8 89.3 C479.0 97.5 480.0 104.6 480.9 109.7 C481.8 114.8 482.3 119.6 483.3 119.9 C484.3 120.2 485.5 116.5 487.0 111.7 C488.5 106.9 490.4 97.8 492.1 91.3 C493.8 84.8 495.5 79.0 497.2 72.9 C498.9 66.8 500.8 58.8 502.3 54.5 C503.8 50.2 505.4 48.8 506.4 47.4 C507.4 46.0 506.6 45.4 508.1 46.3 C509.6 47.1 513.0 50.1 515.6 52.5 C518.2 54.9 521.1 58.5 523.8 60.7 C526.5 62.9 528.9 64.5 532.0 65.8 C535.1 67.1 539.1 68.3 542.2 68.8 C545.3 69.3 547.7 68.4 550.4 68.8 C553.1 69.2 556.0 69.9 558.5 70.9 C561.0 71.9 562.9 72.6 565.4 75.0 C567.9 77.4 570.9 81.8 573.6 85.2 C576.3 88.6 579.1 92.7 581.8 95.4 C584.5 98.1 587.3 99.1 590.0 101.5 C592.7 103.9 595.4 106.6 598.1 109.7 C600.8 112.8 603.5 117.0 606.3 119.9 C609.1 122.8 612.0 124.7 614.8 127.1" stroke="#ff0000" stroke-width="3.5" stroke-dasharray="11.3 4.9"/>
<path d="M614.8 45.3 C616.7 49.1 618.6 51.3 620.6 56.6 C622.6 61.9 624.7 70.2 626.7 77.0 C628.8 83.8 630.9 90.6 632.9 97.4 C634.9 104.2 637.1 112.1 639.0 117.9 C640.9 123.7 642.4 131.3 644.1 132.0 C645.8 132.7 647.3 126.4 649.2 122.0 C651.1 117.6 653.4 111.0 655.4 105.6 C657.4 100.1 659.5 94.1 661.5 89.3 C663.5 84.5 665.6 79.9 667.6 77.0 C669.6 74.1 672.3 72.9 673.8 71.9 C675.2 70.9 675.5 71.3 676.3 71.0" stroke="#ff0000" stroke-width="3.5" stroke-dasharray="11.3 4.9"/>
<path d="M204.3 34.0 C206.5 44.8 208.8 56.7 210.9 66.5 C213.0 76.3 214.9 85.0 216.7 92.8 C218.5 100.6 220.4 108.2 221.8 113.2 C223.2 118.2 224.1 120.5 225.0 122.5 C225.9 124.5 226.5 125.4 227.3 125.5 C228.1 125.6 229.0 124.2 230.0 123.0 C231.0 121.8 232.3 120.5 233.3 118.4 C234.3 116.3 235.2 113.3 236.2 110.5 C237.2 107.7 237.6 107.4 239.2 101.5 C240.8 95.6 243.8 83.2 245.9 75.3 C248.0 67.4 250.1 60.2 251.8 54.3 C253.5 48.4 255.2 43.4 256.1 40.0 C257.0 36.6 256.7 36.0 257.0 34.0" stroke="#ff0000" stroke-width="3.5" stroke-dasharray="11.3 4.9"/>
<path d="M509.5 34.0 C511.5 37.0 513.2 39.9 515.6 43.0 C518.0 46.1 520.7 49.4 523.8 52.5 C526.9 55.6 530.2 60.2 534.0 61.5 C537.8 62.8 542.2 60.9 546.3 60.3 C550.4 59.7 554.6 57.7 558.5 57.8 C562.4 57.9 566.3 58.5 569.5 60.7 C572.7 62.9 575.0 66.8 577.7 70.9 C580.4 75.0 583.2 80.1 585.9 85.2 C588.6 90.3 591.3 96.7 594.0 101.5 C596.7 106.3 599.5 110.0 602.2 113.8 C604.9 117.5 608.3 121.8 610.4 124.0 C612.5 126.2 613.3 126.1 614.8 127.1" stroke="#ff0000" stroke-width="3.5" stroke-dasharray="11.3 4.9"/>
<path d="M304.9 34.0 C305.2 35.9 304.9 37.7 305.9 39.8 C306.9 41.9 309.3 45.0 310.7 46.4 C312.1 47.8 312.9 48.2 314.3 48.2 C315.7 48.2 317.6 47.6 319.1 46.4 C320.6 45.2 322.4 43.0 323.5 40.9 C324.6 38.8 325.2 36.3 326.0 34.0" stroke="#ff0000" stroke-width="3.5" stroke-dasharray="11.3 4.9"/>
<path d="M664.5 34.0 C666.0 36.7 667.3 39.6 669.0 42.0 C670.7 44.4 673.4 47.1 674.8 48.4 C676.2 49.6 676.5 49.1 677.3 49.5" stroke="#ff0000" stroke-width="3.5" stroke-dasharray="11.3 4.9"/>
</g>
<rect x="286.6" y="536.6" width="377.5" height="142.7" rx="4" ry="4" fill="#fff" fill-opacity="0.8" stroke="#cccccc" stroke-opacity="0.8" stroke-width="2.3"/>
<path d="M296.1 554.6H345.2" stroke="#0000ff" stroke-width="4.6" stroke-dasharray="16.9 7.3"/>
<path d="M296.1 588.5H345.2" stroke="#ababab" stroke-width="3.1" stroke-linecap="square"/>
<path d="M296.1 622.4H345.2" stroke="#000" stroke-width="3.1" stroke-linecap="square"/>
<path d="M296.1 656.4H345.2" stroke="#ff0000" stroke-width="3.1" stroke-dasharray="11.3 4.9"/>
<rect x="103.9" y="38.3" width="572.5" height="653.1" fill="none" stroke="#000" stroke-width="2.3"/>
<path d="M93.4 97.8H103.9M93.4 246.1H103.9M93.4 394.5H103.9M93.4 542.9H103.9M93.4 691.2H103.9M103.9 691.4V701.9M227.1 691.4V701.9M314.3 691.4V701.9M401.4 691.4V701.9M508.1 691.4V701.9M614.8 691.4V701.9M676.3 691.4V701.9" stroke="#000" stroke-width="2.3" fill="none"/>
<text x="337.18" y="20.40" font-family="Liberation Serif" fill="#000" font-size="29" textLength="102.64" lengthAdjust="spacingAndGlyphs">BCC W</text>
<text x="363.26" y="563.20" font-family="Liberation Serif" fill="#000" font-size="25" textLength="124.88" lengthAdjust="spacingAndGlyphs">Fermi level</text>
<text x="363.89" y="596.70" font-family="Liberation Serif" fill="#000" font-size="25" textLength="289.33" lengthAdjust="spacingAndGlyphs">DFT bands without SOC</text>
<text x="363.89" y="630.70" font-family="Liberation Serif" fill="#000" font-size="25" textLength="252.23" lengthAdjust="spacingAndGlyphs">DFT bands with SOC</text>
<text x="364.99" y="664.80" font-family="Liberation Serif" fill="#000" font-size="25" textLength="290.22" lengthAdjust="spacingAndGlyphs">Wannier bands with SOC</text>
<text x="54.73" y="106.75" font-family="Liberation Serif" fill="#000" font-size="24.5" textLength="28.36" lengthAdjust="spacingAndGlyphs">10</text>
<text x="68.85" y="255.10" font-family="Liberation Serif" fill="#000" font-size="24.5" textLength="14.37" lengthAdjust="spacingAndGlyphs">5</text>
<text x="67.97" y="403.50" font-family="Liberation Serif" fill="#000" font-size="24.5" textLength="15.10" lengthAdjust="spacingAndGlyphs">0</text>
<text x="49.22" y="551.90" font-family="Liberation Serif" fill="#000" font-size="24.5" textLength="33.18" lengthAdjust="spacingAndGlyphs">−5</text>
<text x="37.12" y="700.70" font-family="Liberation Serif" fill="#000" font-size="24.5" textLength="46.34" lengthAdjust="spacingAndGlyphs">−10</text>
<text x="95.02" y="729.30" font-family="Liberation Serif" fill="#000" font-size="24.5" textLength="16.69" lengthAdjust="spacingAndGlyphs">Γ</text>
<text x="216.96" y="729.30" font-family="Liberation Serif" fill="#000" font-size="24.5" textLength="20.30" lengthAdjust="spacingAndGlyphs">H</text>
<text x="303.51" y="729.30" font-family="Liberation Serif" fill="#000" font-size="24.5" textLength="20.79" lengthAdjust="spacingAndGlyphs">N</text>
<text x="392.58" y="729.30" font-family="Liberation Serif" fill="#000" font-size="24.5" textLength="16.69" lengthAdjust="spacingAndGlyphs">Γ</text>
<text x="498.58" y="729.30" font-family="Liberation Serif" fill="#000" font-size="24.5" textLength="18.51" lengthAdjust="spacingAndGlyphs">P</text>
<text x="582.88" y="729.30" font-family="Liberation Serif" fill="#000" font-size="24.5" textLength="63.27" lengthAdjust="spacingAndGlyphs">H—P</text>
<text x="665.51" y="729.30" font-family="Liberation Serif" fill="#000" font-size="24.5" textLength="20.79" lengthAdjust="spacingAndGlyphs">N</text>
<text transform="translate(18.70 440.57) rotate(-90)" font-family="Liberation Serif" fill="#000" font-size="26" font-style="italic" textLength="22.75" lengthAdjust="spacingAndGlyphs">E</text>
<text transform="translate(18.70 412.78) rotate(-90)" font-family="Liberation Serif" fill="#000" font-size="26" textLength="18.83" lengthAdjust="spacingAndGlyphs">−</text>
<text transform="translate(18.70 388.38) rotate(-90)" font-family="Liberation Serif" fill="#000" font-size="26" font-style="italic" textLength="21.51" lengthAdjust="spacingAndGlyphs">E</text>
<text transform="translate(23.00 368.01) rotate(-90)" font-family="Liberation Serif" fill="#000" font-size="18.5" font-style="italic" textLength="15.31" lengthAdjust="spacingAndGlyphs">F</text>
<text transform="translate(18.70 340.66) rotate(-90)" font-family="Liberation Serif" fill="#000" font-size="26" textLength="49.63" lengthAdjust="spacingAndGlyphs">(eV)</text>
</svg></body></html>
